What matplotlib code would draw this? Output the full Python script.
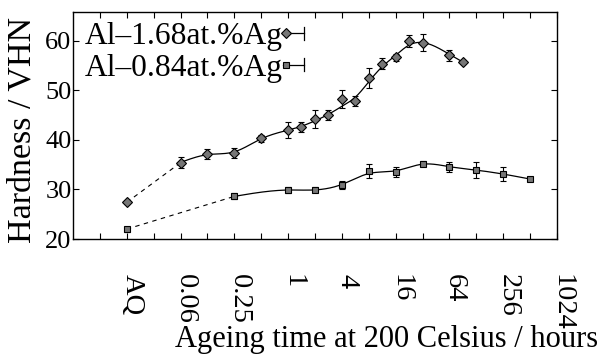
import numpy as np
import matplotlib
matplotlib.use("Agg")
import matplotlib.pyplot as plt
import matplotlib.transforms as mtransforms
from matplotlib.lines import Line2D
from matplotlib.legend_handler import HandlerBase

plt.rcParams['font.family'] = ['Liberation Serif', 'DejaVu Serif']

# ---------------- data ----------------
AQ_POS = 2.0 ** -6  # position used for the as-quenched (AQ) state

hi_label = "Al–1.68at.%Ag"
hi_time = [AQ_POS, 0.0625, 0.125, 0.25, 0.5, 1, 1.41, 2, 2.83, 4, 5.66, 8, 11.3, 16, 22.6, 32, 64, 90.5]
hi_hard = [27.4, 35.4, 37.2, 37.3, 40.3, 42.0, 42.65, 44.2, 45.0, 48.3, 47.9, 52.5, 55.4, 56.7, 60.0, 59.6, 57.1, 55.7]
hi_err = [0.3, 1.1, 1.0, 1.05, 0.7, 1.6, 1.0, 1.85, 0.95, 1.8, 1.0, 1.95, 1.2, 0.7, 1.25, 1.7, 1.1, 0.4]

lo_label = "Al–0.84at.%Ag"
lo_time = [AQ_POS, 0.25, 1, 2, 4, 8, 16, 32, 64, 128, 256, 512]
lo_hard = [22.0, 28.6, 29.9, 29.9, 30.9, 33.7, 33.5, 35.15, 34.5, 33.95, 33.1, 32.1]
lo_err = [0.5, 0.6, 0.6, 0.5, 0.9, 1.4, 1.0, 0.5, 0.95, 1.6, 1.35, 0.3]

tick_pos = [2.0 ** k for k in range(-6, 11, 2)]
tick_labels = ["AQ", "0.06", "0.25", "1", "4", "16", "64", "256", "1024"]
minor_pos = [2.0 ** k for k in range(-7, 10, 2)]

xlabel = "Ageing time at 200 Celsius / hours"
ylabel = "Hardness / VHN"

# ---------------- helpers ----------------
def smooth_curve(x, y, err, lam, n=400):
    lx = np.log2(np.asarray(x, float))
    y = np.asarray(y, float)
    w = 1.0 / np.maximum(np.asarray(err, float), 0.5) ** 2
    g = np.linspace(lx.min(), lx.max(), n)
    h = g[1] - g[0]
    A = np.zeros((len(lx), n))
    for i, v in enumerate(lx):
        j = min(int((v - g[0]) / h), n - 2)
        t = (v - g[j]) / h
        A[i, j] = 1 - t
        A[i, j + 1] = t
    D = np.diff(np.eye(n), 2, axis=0) / h ** 2
    M = A.T @ (w[:, None] * A) + lam * h * D.T @ D
    f = np.linalg.solve(M, A.T @ (w * y))
    return 2.0 ** g, f


class SampleHandler(HandlerBase):
    def create_artists(self, legend, orig_handle, xdescent, ydescent,
                       width, height, fontsize, trans):
        y = height / 2.0 - ydescent
        x0 = -xdescent
        x1 = width - xdescent
        cap = 0.2 * fontsize
        line = Line2D([x0, x1], [y, y], color='k', lw=0.9)
        capl = Line2D([x1, x1], [y - cap, y + cap], color='k', lw=0.9)
        mk = Line2D([x0 + 0.15 * width], [y], ls='none',
                    marker=orig_handle.get_marker(),
                    markersize=orig_handle.get_markersize(),
                    markerfacecolor=orig_handle.get_markerfacecolor(),
                    markeredgecolor='k', markeredgewidth=0.8)
        for a in (line, capl, mk):
            a.set_transform(trans)
        return [line, capl, mk]


# ---------------- figure ----------------
fig = plt.figure(figsize=(6.02, 3.54), dpi=100)
ax = fig.add_axes([73 / 602, 1 - 239 / 354, (557 - 73) / 602, (239 - 12) / 354])

gray = '#767676'
series = [
    (hi_time, hi_hard, hi_err, 'D', 4.6, hi_label),
    (lo_time, lo_hard, lo_err, 's', 4.8, lo_label),
]
handles = []
for t, h, e, mk, ms, lab in series:
    # dashed link from AQ to first aged state
    ax.plot(t[:2], h[:2], color='k', lw=0.8, ls=(0, (4, 4)), zorder=2)
    cx, cy = smooth_curve(t[1:], h[1:], e[1:], lam=0.02)
    ax.plot(cx, cy, color='k', lw=0.9, zorder=2)
    ax.errorbar(t, h, yerr=e, fmt='none', ecolor='k', elinewidth=0.8,
                capsize=2.3, capthick=0.8, zorder=3)
    ax.plot(t, h, ls='none', marker=mk, ms=ms, mfc=gray, mec='k', mew=0.8, zorder=4)
    handles.append(Line2D([], [], marker=mk, ms=ms, mfc=gray, mec='k', ls='none', label=lab))

ax.set_xscale('log', base=2)
ax.set_xlim(2.0 ** -8, 2.0 ** 10)
ax.set_ylim(20, 65.8)
ax.set_xticks(tick_pos)
ax.set_xticklabels(tick_labels, rotation=-90, ha='center', va='top', fontsize=20.5)
ax.set_xticks(minor_pos, minor=True)
ax.xaxis.set_minor_formatter(matplotlib.ticker.NullFormatter())
ax.set_yticks([20, 30, 40, 50, 60])
ax.tick_params(axis='y', labelsize=19, pad=1)
ax.tick_params(axis='x', pad=25)
ax.tick_params(which='both', direction='in', top=True, right=True, length=4.5, width=0.8)
for s in ax.spines.values():
    s.set_linewidth(1.0)

# small rightward nudge of the rotated tick labels (as in the original)
shift = mtransforms.ScaledTranslation(5 / 100, 0, fig.dpi_scale_trans)
for lbl in ax.get_xticklabels():
    lbl.set_transform(lbl.get_transform() + shift)

leg = ax.legend(handles=handles, loc='upper left', bbox_to_anchor=(0.025, 0.955),
                frameon=False, markerfirst=False, fontsize=22.7,
                handler_map={Line2D: SampleHandler()},
                handlelength=0.65, handletextpad=0.0, labelspacing=0.07,
                borderaxespad=0.0, borderpad=0.0)

fig.text(386.5 / 602, 1 - 347.5 / 354, xlabel, ha='center', va='baseline', fontsize=22)
fig.text(22 / 602, 1 - 130 / 354, ylabel, ha='center', va='center', rotation=90, fontsize=24.5)

fig.savefig('out.png', dpi=100)
